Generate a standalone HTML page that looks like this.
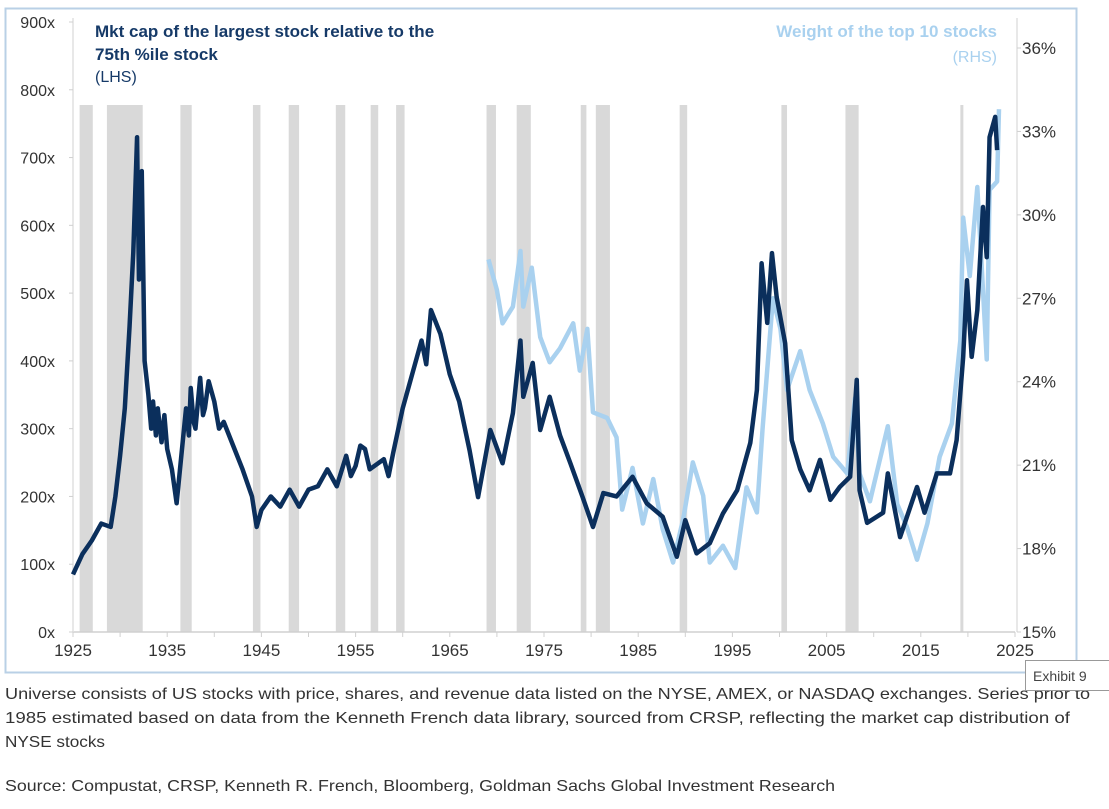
<!DOCTYPE html>
<html><head><meta charset="utf-8"><style>
html,body{margin:0;padding:0;background:#fff;}
svg{display:block;font-family:"Liberation Sans",sans-serif;}
</style></head><body>
<svg id="chart" width="1109" height="809" viewBox="0 0 1109 809" xmlns="http://www.w3.org/2000/svg">
<rect x="5.5" y="8.5" width="1071" height="664" fill="#fff" stroke="#b9d0e6" stroke-width="2"/>
<g id="recessions"></g>
<g id="axes"></g>
<g id="series"></g>
<text x="95" y="37" font-size="17" font-weight="bold" fill="#163a68">Mkt cap of the largest stock relative to the</text>
<text x="95" y="60" font-size="17" font-weight="bold" fill="#163a68">75th %ile stock</text>
<text x="95" y="82" font-size="16" fill="#163a68">(LHS)</text>
<text x="997" y="37" font-size="17" font-weight="bold" fill="#a9d1ef" text-anchor="end">Weight of the top 10 stocks</text>
<text x="997" y="62" font-size="16" fill="#a9d1ef" text-anchor="end">(RHS)</text>
<text x="5" y="699" font-size="16" fill="#333" textLength="1085" lengthAdjust="spacingAndGlyphs">Universe consists of US stocks with price, shares, and revenue data listed on the NYSE, AMEX, or NASDAQ exchanges. Series prior to</text>
<text x="5" y="723" font-size="16" fill="#333" textLength="1065" lengthAdjust="spacingAndGlyphs">1985 estimated based on data from the Kenneth French data library, sourced from CRSP, reflecting the market cap distribution of</text>
<text x="5" y="747" font-size="16" fill="#333" textLength="100" lengthAdjust="spacingAndGlyphs">NYSE stocks</text>
<text x="5" y="791" font-size="16" fill="#333" textLength="830" lengthAdjust="spacingAndGlyphs">Source: Compustat, CRSP, Kenneth R. French, Bloomberg, Goldman Sachs Global Investment Research</text>
<g>
<rect x="1025.5" y="660.5" width="90" height="30" fill="#fff" stroke="#999"/>
<text x="1033" y="681" font-size="14" fill="#444">Exhibit 9</text>
</g>
</svg>
<script>
const NS="http://www.w3.org/2000/svg";
const recStart=[1925.7,1928.6,1936.4,1944.1,1947.9,1952.9,1956.6,1959.3,1968.9,1972.1,1978.9,1980.5,1989.4,2000.2,2007.0,2019.2];
const recEnd=[1927.1,1932.4,1937.6,1944.9,1949.0,1953.9,1957.4,1960.2,1969.9,1973.6,1979.5,1982.0,1990.2,2000.8,2008.4,2019.5];
const xTicks=[1925,1935,1945,1955,1965,1975,1985,1995,2005,2015,2025];
const lhsTicks=[0,100,200,300,400,500,600,700,800,900];
const rhsTicks=[15,18,21,24,27,30,33,36];
const darkYears=[1925,1926,1927,1928,1929,1929.5,1930,1930.5,1931,1931.4,1931.8,1932,1932.3,1932.6,1933,1933.3,1933.5,1933.8,1934,1934.4,1934.7,1935,1935.5,1936,1936.5,1937,1937.3,1937.5,1937.8,1938,1938.5,1938.8,1939,1939.4,1940,1940.5,1941,1942,1943,1944,1944.5,1945,1946,1947,1948,1949,1950,1951,1952,1953,1954,1954.5,1955,1955.5,1956,1956.5,1957,1958,1958.5,1959,1960,1961,1962,1962.5,1963,1964,1965,1966,1967.1,1968,1969.3,1970.6,1971.7,1972.5,1972.8,1973.8,1974.6,1975.6,1976.7,1977.8,1979.1,1980.2,1981.3,1982.7,1984.4,1985.9,1987.6,1989.1,1990,1991.2,1992.6,1994,1995.5,1996.9,1997.6,1998.1,1998.7,1999.2,1999.7,2000.6,2001.3,2002.2,2003.2,2004.3,2005.4,2006.4,2007.5,2008.2,2008.5,2009.3,2011,2011.5,2012.8,2014.6,2015.4,2016.7,2018.1,2018.8,2019.5,2019.9,2020.4,2021,2021.6,2022,2022.3,2022.9,2023.1];
const darkValues=[85,115,135,160,155,200,260,330,450,560,730,520,680,400,350,300,340,290,330,280,320,270,240,190,260,330,290,360,310,300,375,320,330,370,340,300,310,275,240,200,155,180,200,185,210,185,210,215,240,215,260,230,245,275,270,240,245,255,230,265,330,380,430,395,475,440,380,340,268,199,298,249,323,430,347,397,298,347,290,249,199,155,205,200,229,190,170,111,165,116,131,175,209,279,357,544,456,559,494,426,283,240,209,254,195,214,229,372,209,161,176,234,140,214,176,234,234,283,406,519,406,475,627,553,730,760,711];
const lightYears=[1969.1,1970,1970.6,1971.7,1972.5,1972.8,1973.7,1974.6,1975.6,1976.7,1978.1,1978.8,1979.6,1980.2,1981.7,1982.7,1983.3,1984.4,1985.5,1986.6,1987.6,1988.7,1989.8,1990.8,1991.9,1992.6,1994,1995.3,1996.5,1997.6,1998.2,1999.3,2000.1,2000.8,2002.2,2003.2,2004.6,2005.7,2007.2,2008,2008.5,2009.6,2011.5,2012.5,2013.5,2014.6,2015.7,2017,2018.3,2019.2,2019.5,2020.2,2021,2021.6,2022,2022.3,2023.1,2023.3];
const lightValues=[28.4,27.3,26.1,26.7,28.7,26.7,28.1,25.6,24.7,25.2,26.1,24.4,25.9,22.9,22.7,22.0,19.4,20.9,18.9,20.5,18.7,17.5,19.1,21.1,19.9,17.5,18.1,17.3,20.2,19.3,22.3,27.0,25.9,23.7,25.1,23.7,22.5,21.3,20.7,23.4,20.7,19.7,22.4,19.6,18.8,17.6,18.9,21.3,22.5,25.5,29.9,27.8,31.0,27.3,24.8,30.9,31.2,33.8];

const X0=73,X1=1015,Y0=632;
const xs=y=>X0+(y-1925)/100*(X1-X0);
const yl=v=>Y0-v*(632-22)/900;
const yr=p=>Y0-(p-15)*(632-48)/21;
function el(tag,attrs,parent){const e=document.createElementNS(NS,tag);for(const k in attrs)e.setAttribute(k,attrs[k]);parent.appendChild(e);return e;}

const rec=document.getElementById('recessions');
recStart.forEach((s,i)=>{
  const r=el('rect',{x:xs(s),y:105,width:Math.max(3,xs(recEnd[i])-xs(s)),height:Y0-105,fill:'#d9d9d9'},rec);
  
  
});

const ax=document.getElementById('axes');
const xl=el('line',{x1:X0,y1:Y0,x2:X1,y2:Y0,stroke:'#d0d0d0','stroke-width':1.5},ax);


const ll=el('line',{x1:X0,y1:18,x2:X0,y2:Y0,stroke:'#e0e0e0','stroke-width':1.5},ax);


const rl=el('line',{x1:X1+2,y1:18,x2:X1+2,y2:Y0,stroke:'#e0e0e0','stroke-width':1.5},ax);


for(let yv=1925;yv<=2025;yv+=5){el('line',{x1:xs(yv),y1:Y0,x2:xs(yv),y2:Y0+5,stroke:'#d0d0d0'},ax);}
xTicks.forEach(t=>{
  const tx=el('text',{x:xs(t),y:Y0+24,'font-size':17,fill:'#333','text-anchor':'middle'},ax);
  tx.textContent=t;
  
  
});
lhsTicks.forEach(t=>{
  el('line',{x1:X0-4,y1:yl(t),x2:X0,y2:yl(t),stroke:'#d0d0d0'},ax);
  const tx=el('text',{x:55,y:yl(t)+6,'font-size':16,fill:'#333','text-anchor':'end'},ax);
  tx.textContent=t+'x';
  
  
});
rhsTicks.forEach(t=>{
  el('line',{x1:X1+2,y1:yr(t),x2:X1+6,y2:yr(t),stroke:'#d0d0d0'},ax);
  const tx=el('text',{x:1022,y:yr(t)+6,'font-size':17,fill:'#333'},ax);
  tx.textContent=t+'%';
  
  
});

const ser=document.getElementById('series');
const lp=el('polyline',{points:lightYears.map((y,i)=>xs(y)+','+yr(lightValues[i])).join(' '),fill:'none',stroke:'#a9d1ef','stroke-width':4.5,'stroke-linejoin':'round'},ser);


const dp=el('polyline',{points:darkYears.map((y,i)=>xs(y)+','+yl(darkValues[i])).join(' '),fill:'none',stroke:'#0b2f5c','stroke-width':4.5,'stroke-linejoin':'round'},ser);


</script>
</body></html>
